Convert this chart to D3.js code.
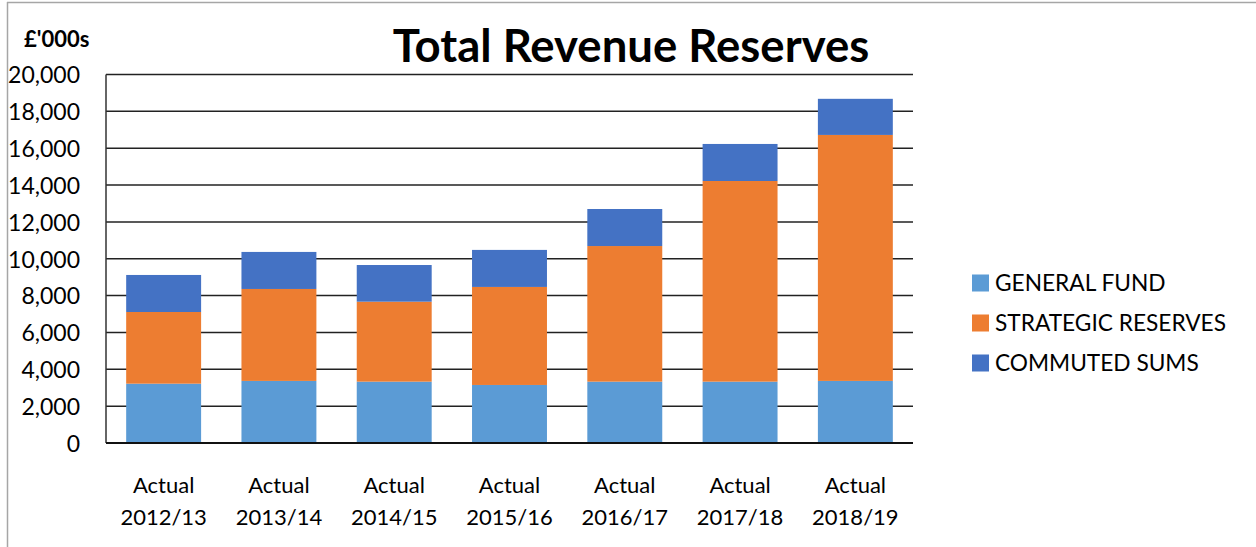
<!DOCTYPE html>
<html>
<head>
<meta charset="utf-8">
<script src="https://cdn.jsdelivr.net/npm/d3@7"></script>
<style>
  body { margin: 0; background: #fff; }
  svg { display: block; font-family: Lato, "Open Sans", sans-serif; }
</style>
</head>
<body>
<div id="chart"></div>
<script>
const categories = ["2012/13", "2013/14", "2014/15", "2015/16", "2016/17", "2017/18", "2018/19"];
const seriesNames = ["GENERAL FUND", "STRATEGIC RESERVES", "COMMUTED SUMS"];
const generalFund = [3220, 3370, 3330, 3150, 3330, 3330, 3370];
const strategicReserves = [3890, 4990, 4340, 5320, 7360, 10890, 13350];
const commutedSums = [2010, 2010, 1990, 2010, 2010, 2010, 1960];
const yTicks = [0, 2000, 4000, 6000, 8000, 10000, 12000, 14000, 16000, 18000, 20000];
const colors = ["#5b9bd5", "#ed7d31", "#4472c4"];

const width = 1256, height = 547;
const margin = { left: 106, right: 343, top: 74.5, bottom: 104 };

const svg = d3.select("#chart").append("svg")
  .attr("width", width)
  .attr("height", height);

// light frame of the chart area
svg.append("line").attr("x1", 7).attr("x2", width).attr("y1", 2.5).attr("y2", 2.5)
  .attr("stroke", "#a6a6a6").attr("stroke-width", 1.5);
svg.append("line").attr("x1", 7.5).attr("x2", 7.5).attr("y1", 2).attr("y2", height)
  .attr("stroke", "#a6a6a6").attr("stroke-width", 1.5);

const table = categories.map((c, i) => ({
  cat: c,
  "GENERAL FUND": generalFund[i],
  "STRATEGIC RESERVES": strategicReserves[i],
  "COMMUTED SUMS": commutedSums[i]
}));
const stacked = d3.stack().keys(seriesNames)(table);

const x = d3.scaleBand()
  .domain(categories)
  .range([margin.left, width - margin.right])
  .paddingInner(0.35)
  .paddingOuter(0.175);

const y = d3.scaleLinear()
  .domain([0, 20000])
  .range([height - margin.bottom, margin.top]);

// gridlines
svg.append("g")
  .selectAll("line")
  .data(yTicks)
  .join("line")
  .attr("x1", margin.left)
  .attr("x2", width - margin.right)
  .attr("y1", d => y(d))
  .attr("y2", d => y(d))
  .attr("stroke", "#222")
  .attr("stroke-width", 1.5);

// bars
svg.append("g")
  .selectAll("g")
  .data(stacked)
  .join("g")
  .attr("fill", (d, i) => colors[i])
  .selectAll("rect")
  .data(d => d)
  .join("rect")
  .attr("x", d => x(d.data.cat))
  .attr("width", x.bandwidth())
  .attr("y", d => y(d[1]))
  .attr("height", d => y(d[0]) - y(d[1]));

// axes lines
svg.append("line")
  .attr("x1", margin.left).attr("x2", margin.left)
  .attr("y1", y(20000)).attr("y2", y(0))
  .attr("stroke", "#333").attr("stroke-width", 1.5);
svg.append("line")
  .attr("x1", margin.left).attr("x2", width - margin.right)
  .attr("y1", y(0)).attr("y2", y(0))
  .attr("stroke", "#111").attr("stroke-width", 2);

// y tick labels
const yAxis = d3.axisLeft(y).tickValues(yTicks).tickSize(0).tickPadding(0)
  .tickFormat(d3.format(","));
const yg = svg.append("g")
  .attr("transform", "translate(80,0)")
  .call(yAxis);
yg.select(".domain").remove();
yg.selectAll("text")
  .attr("font-family", "Lato, sans-serif")
  .attr("font-size", 23)
  .attr("fill", "#000")
  .attr("dy", "0.36em");

// x labels
const xl = svg.append("g")
  .selectAll("text")
  .data(categories)
  .join("text")
  .attr("x", d => x(d) + x.bandwidth() / 2)
  .attr("text-anchor", "middle")
  .attr("font-size", 22)
  .attr("fill", "#000");
xl.append("tspan").attr("x", d => x(d) + x.bandwidth() / 2).attr("y", 493).text("Actual");
xl.append("tspan").attr("x", d => x(d) + x.bandwidth() / 2).attr("y", 525).text(d => d);

// title
svg.append("text")
  .attr("x", 631)
  .attr("y", 62)
  .attr("text-anchor", "middle")
  .attr("font-size", 45.5)
  .attr("font-weight", "bold")
  .attr("fill", "#000")
  .text("Total Revenue Reserves");

// unit label
svg.append("text")
  .attr("x", 24)
  .attr("y", 47)
  .attr("font-size", 22)
  .attr("font-weight", "bold")
  .attr("fill", "#000")
  .text("£'000s");

// legend
const legend = svg.append("g")
  .selectAll("g")
  .data(seriesNames)
  .join("g")
  .attr("transform", (d, i) => `translate(972,${283 + i * 40})`);
legend.append("rect")
  .attr("x", 0).attr("y", -8.5)
  .attr("width", 17).attr("height", 17)
  .attr("fill", (d, i) => colors[i]);
legend.append("text")
  .attr("x", 23)
  .attr("dy", "0.36em")
  .attr("font-size", 22.7)
  .attr("fill", "#000")
  .text(d => d);
</script>
</body>
</html>
